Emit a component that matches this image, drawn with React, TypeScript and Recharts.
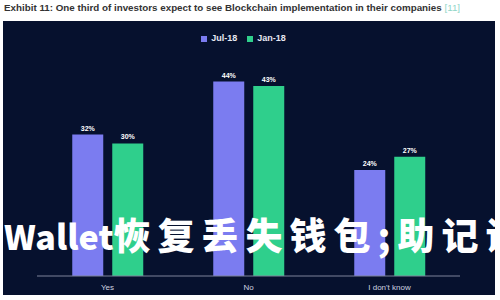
import { Bar, BarChart, LabelList, Legend, XAxis, YAxis } from "recharts"

const categories = ["Yes", "No", "I don't know"]
const seriesNames = ["Jul-18", "Jan-18"]
const jul18 = [32, 44, 24]
const jan18 = [30, 43, 27]

const data = categories.map((name, i) => ({
  name,
  "Jul-18": jul18[i],
  "Jan-18": jan18[i],
}))

const pct = (v: any) => `${v}%`

export default function App() {
  return (
    <div
      style={{
        position: "absolute",
        left: 0,
        top: 0,
        width: 500,
        height: 300,
        background: "#ffffff",
        overflow: "hidden",
        fontFamily: "'Liberation Sans', Arial, sans-serif",
      }}
    >
      <div
        style={{
          position: "absolute",
          left: 4,
          top: 2,
          fontSize: 9.8,
          fontWeight: 700,
          color: "#333333",
          whiteSpace: "nowrap",
        }}
      >
        Exhibit 11: One third of investors expect to see Blockchain implementation in their companies{" "}
        <span style={{ color: "#8fd6c8", fontWeight: 400 }}>[11]</span>
      </div>
      <div
        style={{
          position: "absolute",
          left: 3,
          top: 21,
          width: 492,
          height: 274,
          background: "#06112e",
        }}
      >
        <BarChart
          width={492}
          height={274}
          data={data}
          barCategoryGap="25%"
          barGap={9}
          margin={{ top: 20, right: 35, bottom: 5, left: 34 }}
        >
          <Legend
            verticalAlign="top"
            align="center"
            iconType="square"
            iconSize={6}
            itemSorter={(item: any) => seriesNames.indexOf(item.value)}
            wrapperStyle={{ fontSize: 9, fontWeight: 700, top: 10, height: 14, lineHeight: "14px" }}
            formatter={(value: any) => <span style={{ color: "#e6e8f2" }}>{value}</span>}
          />
          <XAxis
            dataKey="name"
            height={14}
            tickLine={false}
            stroke="#7d8399"
            tick={{ fill: "#cfd3e0", fontSize: 8 }}
            interval={0}
          />
          <YAxis hide domain={[0, 50]} />
          <Bar dataKey="Jul-18" fill="#7b7cf0" isAnimationActive={false}>
            <LabelList dataKey="Jul-18" position="top" offset={4} formatter={pct} fill="#ffffff" fontSize={7} fontWeight={700} />
          </Bar>
          <Bar dataKey="Jan-18" fill="#2fcf8c" isAnimationActive={false}>
            <LabelList dataKey="Jan-18" position="top" offset={4} formatter={pct} fill="#ffffff" fontSize={7} fontWeight={700} />
          </Bar>
        </BarChart>
      </div>
      <div
        style={{
          position: "absolute",
          left: 4,
          top: 216,
          whiteSpace: "nowrap",
          color: "#ffffff",
          fontFamily: "'Noto Sans CJK SC', sans-serif",
          fontWeight: 900,
          lineHeight: "37px",
        }}
      >
        <span style={{ fontSize: 34 }}>Wallet</span>
        <span style={{ fontSize: 37, letterSpacing: 7 }}>恢复丢失钱包;助记词</span>
      </div>
    </div>
  )
}
